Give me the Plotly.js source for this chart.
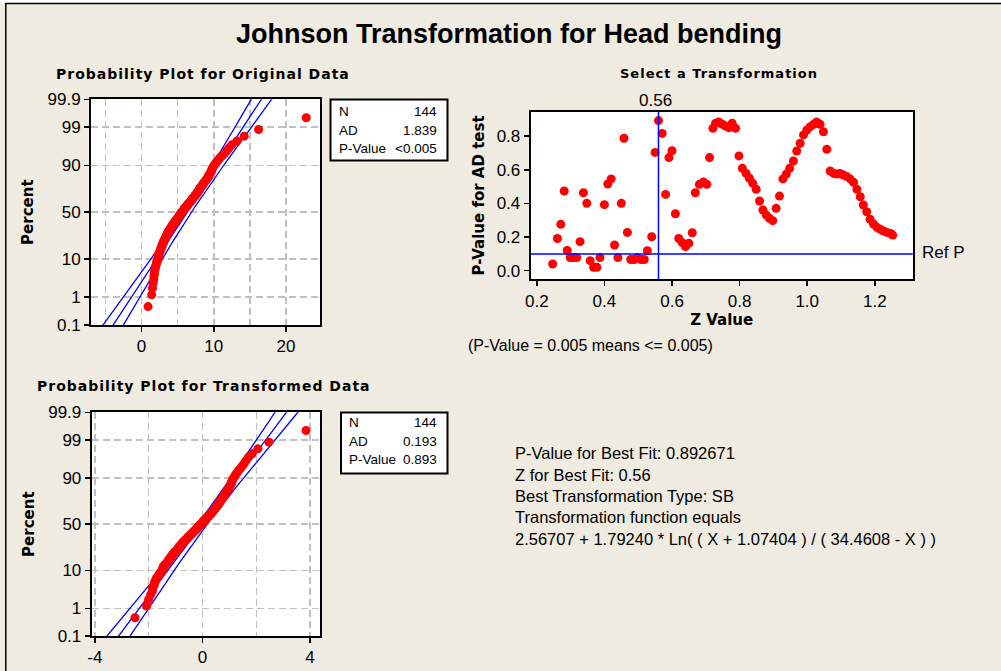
<!DOCTYPE html>
<html>
<head>
<meta charset="utf-8">
<script src="https://cdn.plot.ly/plotly-3.0.1.min.js"></script>
<style>
html,body{margin:0;padding:0;background:#EFEBE1;}
#chart{width:1001px;height:671px;}
</style>
</head>
<body>
<div id="chart"></div>
<script>
// ---------------- DATA ----------------
// Original "Head bending" data (sorted)
const originalData = [
  0.9, 1.4, 1.5, 1.6, 1.7, 1.7, 1.8, 1.8, 1.9, 1.9,
  2.0, 2.1, 2.1, 2.2, 2.3, 2.3, 2.3, 2.4, 2.4, 2.5,
  2.6, 2.6, 2.7, 2.7, 2.8, 2.8, 2.9, 2.9, 3.0, 3.0,
  3.1, 3.1, 3.2, 3.3, 3.3, 3.4, 3.4, 3.5, 3.5, 3.6,
  3.6, 3.7, 3.7, 3.8, 3.8, 3.9, 4.0, 4.0, 4.1, 4.2,
  4.2, 4.3, 4.3, 4.4, 4.5, 4.5, 4.6, 4.7, 4.7, 4.8,
  4.9, 4.9, 5.0, 5.1, 5.1, 5.2, 5.2, 5.3, 5.4, 5.4,
  5.5, 5.6, 5.6, 5.7, 5.8, 5.8, 5.9, 5.9, 6.0, 6.1,
  6.2, 6.2, 6.3, 6.4, 6.5, 6.5, 6.6, 6.7, 6.8, 6.9,
  6.9, 7.0, 7.1, 7.1, 7.2, 7.3, 7.4, 7.4, 7.5, 7.6,
  7.7, 7.7, 7.8, 7.9, 7.9, 8.0, 8.1, 8.1, 8.2, 8.3,
  8.4, 8.5, 8.5, 8.6, 8.7, 8.8, 8.9, 9.0, 9.1, 9.2,
  9.3, 9.3, 9.4, 9.5, 9.6, 9.7, 9.7, 9.8, 9.9, 10.0,
  10.2, 10.3, 10.5, 10.7, 10.9, 11.2, 11.5, 11.8, 12.1, 12.5,
  13.2, 14.2, 16.2, 22.8
];
// Fitted normal parameters
const origFitMean = 6.33, origFitSD = 3.32;
const transFitMean = 0.0, transFitSD = 1.01;
// Johnson SB transformation shown in the chart
const johnsonGamma = 2.56707, johnsonEta = 1.79240, johnsonShift = 1.07404, johnsonUpper = 34.4608;

// Select a Transformation: Z value vs P-value for AD test
const zValues = [
  0.247,0.261,0.271,0.281,0.290,0.299,0.308,0.318,0.328,0.338,
  0.348,0.358,0.368,0.378,0.387,0.400,0.410,0.420,0.430,0.440,
  0.450,0.458,0.468,0.478,0.488,0.498,0.508,0.518,0.527,0.540,
  0.550,0.560,0.571,0.581,0.591,0.600,0.610,0.620,0.630,0.640,
  0.650,0.660,0.669,0.681,0.693,0.703,0.711,0.721,0.729,0.738,
  0.748,0.758,0.768,0.778,0.788,0.798,0.808,0.819,0.829,0.839,
  0.849,0.859,0.869,0.879,0.888,0.898,0.908,0.918,0.928,0.938,
  0.948,0.959,0.969,0.979,0.989,0.999,1.009,1.019,1.028,1.038,
  1.048,1.058,1.068,1.078,1.088,1.097,1.107,1.117,1.127,1.137,
  1.147,1.157,1.166,1.176,1.186,1.196,1.206,1.216,1.226,1.236,
  1.246,1.253
];
const pValues = [
  0.040,0.192,0.276,0.474,0.121,0.079,0.079,0.079,0.173,0.464,
  0.401,0.060,0.020,0.020,0.079,0.393,0.516,0.546,0.153,0.079,
  0.401,0.788,0.228,0.067,0.067,0.079,0.067,0.067,0.119,0.202,
  0.704,0.893,0.817,0.454,0.673,0.714,0.339,0.192,0.167,0.143,
  0.163,0.226,0.464,0.514,0.528,0.514,0.673,0.847,0.877,0.885,
  0.873,0.861,0.851,0.877,0.847,0.683,0.609,0.579,0.550,0.520,
  0.484,0.415,0.361,0.331,0.312,0.298,0.371,0.444,0.546,0.575,
  0.609,0.653,0.712,0.758,0.808,0.837,0.857,0.871,0.885,0.871,
  0.827,0.722,0.593,0.579,0.575,0.579,0.569,0.560,0.546,0.526,
  0.484,0.440,0.391,0.351,0.306,0.278,0.258,0.246,0.236,0.228,
  0.222,0.212
];
const refP = 0.10;
const bestZ = 0.56;

// Tick labels
const percentTicks = [0.1, 1, 10, 50, 90, 99, 99.9];
const percentLabels = ['0.1', '1', '10', '50', '90', '99', '99.9'];
const transXTicks = [-4, 0, 4];
const transXLabels = ['-4', '0', '4'];
const zTicks = [0.2, 0.4, 0.6, 0.8, 1.0, 1.2];
const pTicks = [0.0, 0.2, 0.4, 0.6, 0.8];

const statsOrig = [['N', '144'], ['AD', '1.839'], ['P-Value', '&lt;0.005']];
const statsTrans = [['N', '144'], ['AD', '0.193'], ['P-Value', '0.893']];
const infoLines = [
  'P-Value for Best Fit: 0.892671',
  'Z for Best Fit: 0.56',
  'Best Transformation Type: SB',
  'Transformation function equals',
  '2.56707 + 1.79240 * Ln( ( X + 1.07404 ) / ( 34.4608 - X ) )'
];

// ---------------- HELPERS ----------------
function qnorm(p) {
  const a = [-3.969683028665376e+01, 2.209460984245205e+02, -2.759285104469687e+02, 1.383577518672690e+02, -3.066479806614716e+01, 2.506628277459239e+00];
  const b = [-5.447609879822406e+01, 1.615858368580409e+02, -1.556989798598866e+02, 6.680131188771972e+01, -1.328068155288572e+01];
  const c = [-7.784894002430293e-03, -3.223964580411365e-01, -2.400758277161838e+00, -2.549671348283169e+00, 4.374664141464968e+00, 2.938163982698783e+00];
  const d = [7.784695709041462e-03, 3.224671290700398e-01, 2.445134137142996e+00, 3.754408661907416e+00];
  const plow = 0.02425;
  let q, r;
  if (p < plow) {
    q = Math.sqrt(-2 * Math.log(p));
    return (((((c[0]*q+c[1])*q+c[2])*q+c[3])*q+c[4])*q+c[5]) / ((((d[0]*q+d[1])*q+d[2])*q+d[3])*q+1);
  } else if (p > 1 - plow) {
    q = Math.sqrt(-2 * Math.log(1 - p));
    return -(((((c[0]*q+c[1])*q+c[2])*q+c[3])*q+c[4])*q+c[5]) / ((((d[0]*q+d[1])*q+d[2])*q+d[3])*q+1);
  }
  q = p - 0.5; r = q * q;
  return (((((a[0]*r+a[1])*r+a[2])*r+a[3])*r+a[4])*r+a[5])*q / (((((b[0]*r+b[1])*r+b[2])*r+b[3])*r+b[4])*r+1);
}
const n = originalData.length;
// median-rank plotting positions on normal scale
const rankZ = originalData.map((v, i) => qnorm((i + 1 - 0.3) / (n + 0.4)));
const transformedData = originalData.map(x => johnsonGamma + johnsonEta * Math.log((x + johnsonShift) / (johnsonUpper - x)));

// fitted line + confidence band curves
const zLine = [];
for (let z = -3.4; z <= 3.41; z += 0.05) zLine.push(z);
const bandFactor = 2.1;
function fitCurves(mu, sd) {
  const mid = zLine.map(z => mu + sd * z);
  const hw = zLine.map(z => bandFactor * sd * Math.sqrt(1 / n + z * z / (2 * (n - 1))));
  return {
    mid: mid,
    lo: mid.map((m, i) => m - hw[i]),
    hi: mid.map((m, i) => m + hw[i])
  };
}
const fo = fitCurves(origFitMean, origFitSD);
const ft = fitCurves(transFitMean, transFitSD);

const W = 1001, H = 671;
const px = x => x / W;
const py = y => 1 - y / H;

const RED = '#FF0000', BLUE = '#0000FF';
const tickFont = {family: 'Liberation Sans, Arial, sans-serif', size: 17, color: '#000'};
const boldTitleFont = {family: 'DejaVu Sans, Verdana, sans-serif', size: 15, color: '#000', weight: 'bold'};
const gridCol = '#C0C0C0';
const MS = 9;

const blueLine = (xs, xa, ya) => ({x: xs, y: zLine, xaxis: xa, yaxis: ya, type: 'scatter', mode: 'lines',
  line: {color: BLUE, width: 1.3}, hoverinfo: 'skip', showlegend: false});

const traces = [
  blueLine(fo.lo, 'x', 'y'), blueLine(fo.mid, 'x', 'y'), blueLine(fo.hi, 'x', 'y'),
  {x: originalData, y: rankZ, xaxis: 'x', yaxis: 'y', type: 'scatter', mode: 'markers',
   marker: {color: RED, size: MS}, showlegend: false},
  blueLine(ft.lo, 'x3', 'y3'), blueLine(ft.mid, 'x3', 'y3'), blueLine(ft.hi, 'x3', 'y3'),
  {x: transformedData, y: rankZ, xaxis: 'x3', yaxis: 'y3', type: 'scatter', mode: 'markers',
   marker: {color: RED, size: MS}, showlegend: false},
  {x: zValues, y: pValues, xaxis: 'x2', yaxis: 'y2', type: 'scatter', mode: 'markers',
   marker: {color: RED, size: MS}, showlegend: false}
];

const zMin = qnorm(0.001), zMax = qnorm(0.999);
const percentTickVals = percentTicks.map(p => qnorm(p / 100));

const frame = {showline: true, mirror: true, linecolor: '#000', linewidth: 2, zeroline: false,
  ticks: 'outside', ticklen: 5, tickwidth: 1.5, tickcolor: '#000', tickfont: tickFont, fixedrange: true};

const probY = Object.assign({}, frame, {
  range: [zMin, zMax], tickmode: 'array', tickvals: percentTickVals, ticktext: percentLabels,
  showgrid: true, gridcolor: gridCol, gridwidth: 1.5, griddash: '7px,4px',
  title: {text: 'Percent', font: boldTitleFont, standoff: 10}
});

const layout = {
  width: W, height: H, autosize: false,
  margin: {l: 0, r: 0, t: 0, b: 0},
  paper_bgcolor: '#EFEBE1', plot_bgcolor: '#FFFFFF',
  showlegend: false,
  xaxis: Object.assign({}, frame, {
    domain: [px(91), px(320)], range: [-7, 24.7], anchor: 'y',
    tickmode: 'linear', tick0: 0, dtick: 10,
    showgrid: true, gridcolor: gridCol, gridwidth: 1.5, griddash: '7px,4px',
    minor: {tickmode: 'linear', tick0: 0, dtick: 5, showgrid: true, gridcolor: gridCol, gridwidth: 1.5, griddash: '7px,4px', ticks: ''}
  }),
  yaxis: Object.assign({}, probY, {domain: [py(325), py(99.3)], anchor: 'x'}),
  xaxis3: Object.assign({}, frame, {
    domain: [px(91.7), px(320)], range: [-4.12, 4.37], anchor: 'y3',
    tickmode: 'array', tickvals: transXTicks, ticktext: transXLabels,
    showgrid: true, gridcolor: gridCol, gridwidth: 1.5, griddash: '7px,4px',
    minor: {tickmode: 'linear', tick0: 0, dtick: 2, showgrid: true, gridcolor: gridCol, gridwidth: 1.5, griddash: '7px,4px', ticks: ''}
  }),
  yaxis3: Object.assign({}, probY, {domain: [py(636), py(412.3)], anchor: 'x3'}),
  xaxis2: Object.assign({}, frame, {
    domain: [px(530.7), px(912.7)], range: [0.182, 1.312], anchor: 'y2',
    tickmode: 'array', tickvals: zTicks, tickformat: '.1f', showgrid: false,
    title: {text: 'Z Value', font: boldTitleFont, standoff: 5}
  }),
  yaxis2: Object.assign({}, frame, {
    domain: [py(279.3), py(111.7)], range: [-0.051, 0.946], anchor: 'x2',
    tickmode: 'array', tickvals: pTicks, tickformat: '.1f', showgrid: false,
    title: {text: 'P-Value for AD test', font: boldTitleFont, standoff: 8}
  }),
  shapes: [
    // top white strip + page borders
    {type: 'rect', xref: 'paper', yref: 'paper', x0: 0, x1: 1, y0: py(3), y1: 1, fillcolor: '#FFFFFF', line: {width: 0}, layer: 'below'},
    {type: 'line', xref: 'paper', yref: 'paper', x0: px(5), x1: 1, y0: py(3.5), y1: py(3.5), line: {color: '#000', width: 1.5}},
    {type: 'line', xref: 'paper', yref: 'paper', x0: px(5.8), x1: px(5.8), y0: 0, y1: py(3), line: {color: '#000', width: 1.5}},
    // reference lines
    {type: 'line', xref: 'x2 domain', yref: 'y2', x0: 0, x1: 1, y0: refP, y1: refP, line: {color: BLUE, width: 1.5}},
    {type: 'line', xref: 'x2', yref: 'y2 domain', x0: bestZ, x1: bestZ, y0: 0, y1: 1, line: {color: BLUE, width: 1.5}},
    // stats boxes
    {type: 'rect', xref: 'paper', yref: 'paper', x0: px(330.5), x1: px(447.5), y0: py(160.5), y1: py(99.5), fillcolor: '#FFFFFF', line: {color: '#000', width: 2}},
    {type: 'rect', xref: 'paper', yref: 'paper', x0: px(341), x1: px(447.5), y0: py(473.5), y1: py(412.5), fillcolor: '#FFFFFF', line: {color: '#000', width: 2}}
  ],
  annotations: []
};

const ann = layout.annotations;
function addText(text, x, y, opts) {
  ann.push(Object.assign({text: text, xref: 'paper', yref: 'paper', x: px(x), y: py(y),
    showarrow: false, xanchor: 'center', yanchor: 'middle',
    font: {family: 'Liberation Sans, Arial, sans-serif', size: 15, color: '#000'}}, opts || {}));
}
addText('Johnson Transformation for Head bending', 509, 34,
  {font: {family: 'Liberation Sans, Arial, sans-serif', size: 27, color: '#000', weight: 'bold'}});
const subFont = {family: 'DejaVu Sans, Verdana, sans-serif', size: 13, color: '#000', weight: 'bold'};
const subFontBig = Object.assign({}, subFont, {size: 14});
addText('<span style="letter-spacing:1px">Probability Plot for Original Data</span>', 203, 74, {font: subFontBig});
addText('<span style="letter-spacing:1px">Select a Transformation</span>', 718.5, 73.5, {font: subFont});
addText('<span style="letter-spacing:1px">Probability Plot for Transformed Data</span>', 204, 385.5, {font: subFontBig});
addText(String(bestZ), 655, 100, {font: tickFont});
addText('Ref P', 920, 253, {xanchor: 'left', font: tickFont});
addText('(P-Value = 0.005 means &lt;= 0.005)', 466, 345, {xanchor: 'left', font: {family: 'Liberation Sans, Arial, sans-serif', size: 16, color: '#000'}});

const statFont = {family: 'Liberation Sans, Arial, sans-serif', size: 13.5, color: '#000'};
const statRows1 = [111, 130, 148.5];
statsOrig.forEach((r, i) => {
  addText(r[0], 337, statRows1[i], {xanchor: 'left', font: statFont});
  addText(r[1], 439, statRows1[i], {xanchor: 'right', font: statFont});
});
const statRows2 = [422, 441, 459.5];
statsTrans.forEach((r, i) => {
  addText(r[0], 347, statRows2[i], {xanchor: 'left', font: statFont});
  addText(r[1], 439, statRows2[i], {xanchor: 'right', font: statFont});
});
const infoY = [453, 474.5, 496, 517, 538.5];
infoLines.forEach((t, i) => addText(t, 513, infoY[i], {xanchor: 'left', font: {family: 'Liberation Sans, Arial, sans-serif', size: 16.5, color: '#000'}}));

Plotly.newPlot('chart', traces, layout, {staticPlot: true, displayModeBar: false});
</script>
</body>
</html>
